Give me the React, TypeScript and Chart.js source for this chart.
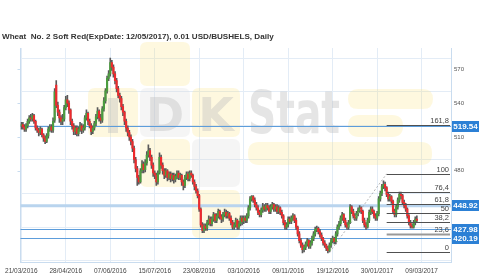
import { useEffect, useRef } from "react";
import { Chart, registerables } from "chart.js";

Chart.register(...registerables);

const titleText = "Wheat  No. 2 Soft Red(ExpDate: 12/05/2017), 0.01 USD/BUSHELS, Daily";

const tickLabels = ["21/03/2016", "28/04/2016", "07/06/2016", "15/07/2016", "23/08/2016", "03/10/2016", "09/11/2016", "19/12/2016", "30/01/2017", "09/03/2017"];
const tickStep = 28;
const slotCount = 271;
const categories = Array.from({ length: slotCount }, (_, i) => String(i));

const opens = [
  520,521,519,517,520,524,527,526,529,524,
  518,516,514,517,512,509,506,511,517,519,
  516,525,556,538,532,527,524,526,536,543,
  540,534,524,520,515,518,513,517,520,516,
  518,527,531,524,520,515,518,522,528,533,
  527,525,535,542,551,562,566,576,572,566,
  560,553,547,544,537,532,524,518,514,510,
  506,500,490,482,474,470,480,486,481,487,
  494,498,492,485,478,476,470,478,492,485,
  480,476,480,474,477,473,476,472,475,478,
  474,476,470,467,474,477,473,478,476,470,
  466,462,458,446,432,427,431,429,434,437,
  433,437,441,436,440,444,439,437,441,443,
  440,442,438,434,430,432,436,430,433,438,
  435,438,436,440,447,455,457,454,450,447,
  443,441,445,448,446,449,447,444,448,450,
  446,448,444,447,443,440,434,430,432,437,
  435,438,440,436,430,424,418,414,410,412,
  415,418,413,416,420,424,428,429,426,423,
  420,416,414,411,409,414,418,420,417,424,
  430,433,438,441,436,432,430,434,448,444,
  440,438,442,445,447,444,436,432,430,436,
  443,446,444,440,438,442,455,460,466,468,
  465,459,455,457,453,444,441,448,454,459,
  458,452,449,446,440,434,431,430,434,437,
];
const highs = [
  523,523,521,522,526,529,530,531,530,525,
  520,518,519,518,513,511,513,519,521,521,
  527,553,560,541,534,529,530,538,546,547,
  542,535,526,522,520,520,519,523,522,521,
  529,534,532,526,522,520,524,530,536,534,
  530,537,545,553,564,569,580,578,574,568,
  562,555,549,546,539,533,526,520,516,512,
  508,502,492,484,476,482,489,488,490,497,
  503,500,494,487,480,478,480,496,494,487,
  482,482,481,479,479,478,478,477,480,480,
  478,477,472,476,479,479,480,480,477,472,
  468,464,459,447,434,433,433,436,440,439,
  439,443,442,442,446,445,441,443,446,445,
  444,443,440,436,434,438,437,435,440,440,
  440,440,442,449,457,458,458,456,452,449,
  445,447,451,450,451,451,449,450,452,451,
  450,450,449,448,445,441,436,434,439,439,
  440,442,441,438,431,426,420,416,414,417,
  420,419,418,422,426,430,431,430,428,425,
  421,418,415,413,416,420,422,421,426,432,
  435,440,443,442,438,434,436,450,449,446,
  442,444,447,449,448,445,438,434,438,445,
  448,448,445,442,444,457,462,468,471,470,
  466,461,459,458,454,446,450,456,461,461,
  459,454,451,447,441,436,433,436,439,440,
];
const lows = [
  517,517,515,515,518,522,524,524,522,516,
  514,511,512,510,506,504,505,509,515,514,
  514,523,536,529,523,521,521,524,534,537,
  531,521,517,512,512,511,511,515,513,514,
  516,525,521,518,512,513,516,520,526,524,
  522,523,533,540,549,560,564,569,563,557,
  550,545,541,534,529,521,515,511,507,503,
  497,487,479,467,468,469,478,478,479,485,
  492,489,482,475,473,467,468,477,482,477,
  473,474,471,472,470,471,469,470,473,472,
  472,467,463,465,472,471,471,474,468,463,
  460,456,444,430,425,425,427,427,432,431,
  431,435,434,434,438,437,434,435,439,438,
  438,436,432,428,428,430,428,428,431,432,
  433,434,434,438,445,453,452,448,445,441,
  439,439,443,444,444,445,442,442,446,444,
  444,442,442,441,438,432,428,428,430,433,
  433,436,434,428,422,416,412,407,408,410,
  413,411,411,414,418,422,426,424,421,418,
  414,412,409,407,408,412,416,415,415,422,
  428,431,436,434,430,428,428,433,442,438,
  436,436,440,443,442,434,430,428,429,434,
  441,442,438,436,436,440,453,458,464,462,
  457,453,453,451,442,439,439,446,452,455,
  450,447,444,438,432,429,429,429,432,434,
];
const closes = [
  521,519,517,520,524,527,526,529,524,518,
  516,514,517,512,509,506,511,517,519,516,
  524,550,538,532,527,524,526,536,543,540,
  534,524,520,515,518,513,517,520,516,518,
  527,531,524,520,515,518,522,528,533,527,
  525,535,542,551,562,566,576,572,566,560,
  553,547,544,537,532,524,518,514,510,506,
  500,490,482,474,470,480,486,481,487,494,
  498,492,485,478,476,470,478,492,485,480,
  476,480,474,477,473,476,472,475,478,474,
  476,470,467,474,477,473,478,476,470,466,
  462,458,446,432,427,431,429,434,437,433,
  437,441,436,440,444,439,437,441,443,440,
  442,438,434,430,432,436,430,433,438,435,
  438,436,440,447,455,457,454,450,447,443,
  441,445,448,446,449,447,444,448,450,446,
  448,444,447,443,440,434,430,432,437,435,
  438,440,436,430,424,418,414,410,412,415,
  418,413,416,420,424,428,429,426,423,420,
  416,414,411,409,414,418,420,417,424,430,
  433,438,441,436,432,430,434,448,444,440,
  438,442,445,447,444,436,432,430,436,443,
  446,444,440,438,442,455,460,466,468,465,
  459,455,457,453,444,441,448,454,459,458,
  452,449,446,440,434,431,430,434,437,436,
];

const yMin = 399;
const yMax = 589;
const gridValues = [400, 430, 460, 490, 520, 550, 580];
const axisLabelValues = [480, 510, 540, 570];

const priceLevels = [519.54, 448.92, 427.98, 420.19];
const priceLabels = ["519.54", "448.92", "427.98", "420.19"];

const fibLow = 407.5;
const fibHigh = 477.3;
const fibStartIndex = 194;
const fibEndIndex = 230;
const fibRatios = [161.8, 100, 76.4, 61.8, 50, 38.2, 23.6, 0];
const fibLabels = ["161,8", "100", "76,4", "61,8", "50", "38,2", "23,6", "0"];

const gridColor = "#e3ecf6";
const axisColor = "#c9dcef";
const upColor = "#4b9c3e";
const downColor = "#ee2a2d";
const wickColor = "#5a5a5a";
const SANS = '"Liberation Sans", Arial, sans-serif';

function rr(ctx: CanvasRenderingContext2D, x: number, y: number, w: number, h: number, r: number) {
  ctx.beginPath();
  ctx.moveTo(x + r, y);
  ctx.lineTo(x + w - r, y);
  ctx.quadraticCurveTo(x + w, y, x + w, y + r);
  ctx.lineTo(x + w, y + h - r);
  ctx.quadraticCurveTo(x + w, y + h, x + w - r, y + h);
  ctx.lineTo(x + r, y + h);
  ctx.quadraticCurveTo(x, y + h, x, y + h - r);
  ctx.lineTo(x, y + r);
  ctx.quadraticCurveTo(x, y, x + r, y);
  ctx.closePath();
}

const decorPlugin = {
  id: "decor",
  beforeDatasetsDraw(chart: any) {
    const ctx: CanvasRenderingContext2D = chart.ctx;
    const area = chart.chartArea;
    const ys = chart.scales.y;
    ctx.save();
    const yellow = "rgba(250,224,120,0.24)";
    const grey = "rgba(220,220,220,0.28)";
    const boxes: [number, number, number, number, number, string][] = [
      [140, 42, 50, 44, 7, yellow],
      [88, 88, 50, 49, 7, yellow],
      [140, 88, 50, 49, 7, grey],
      [192, 88, 48, 49, 7, yellow],
      [348, 89, 85, 20, 10, yellow],
      [348, 115, 55, 22, 11, yellow],
      [248, 142, 184, 23, 11, yellow],
      [140, 139, 50, 48, 7, yellow],
      [192, 139, 48, 48, 7, grey],
      [192, 190, 48, 48, 7, yellow],
    ];
    for (const [x, y, w, h, r, c] of boxes) {
      rr(ctx, x, y, w, h, r);
      ctx.fillStyle = c;
      ctx.fill();
    }
    ctx.fillStyle = "rgba(190,190,190,0.4)";
    ctx.fillRect(108, 98, 10, 35);
    ctx.font = 'bold 46px "DejaVu Sans", sans-serif';
    ctx.textBaseline = "alphabetic";
    ctx.textAlign = "center";
    ctx.fillText("D", 165, 131);
    ctx.fillText("K", 216, 131);
    ctx.font = 'bold 58px "DejaVu Sans", sans-serif';
    ctx.textAlign = "left";
    const sw = ctx.measureText("Stat").width;
    ctx.translate(248, 133);
    ctx.scale(92 / sw, 1);
    ctx.fillText("Stat", 0, 0);
    ctx.restore();

    ctx.save();
    priceLevels.forEach((v, i) => {
      const y = ys.getPixelForValue(v);
      ctx.beginPath();
      ctx.strokeStyle = i === 1 ? "#b9d4ee" : "#5d9ddb";
      ctx.lineWidth = i === 1 ? 3 : 1;
      const yy = i === 1 ? y : Math.round(y) + 0.5;
      ctx.moveTo(area.left, yy);
      ctx.lineTo(area.right, yy);
      ctx.stroke();
    });
    ctx.strokeStyle = axisColor;
    ctx.lineWidth = 1;
    axisLabelValues.forEach((v) => {
      const y = Math.round(ys.getPixelForValue(v)) + 0.5;
      ctx.beginPath();
      ctx.moveTo(area.left - 3, y);
      ctx.lineTo(area.left, y);
      ctx.stroke();
    });
    ctx.restore();
  },
  afterDatasetsDraw(chart: any) {
    const ctx: CanvasRenderingContext2D = chart.ctx;
    const area = chart.chartArea;
    const ys = chart.scales.y;
    const xs = chart.scales.x;
    ctx.save();
    const x0 = xs.getPixelForValue(fibStartIndex);
    const x1 = xs.getPixelForValue(fibEndIndex);
    ctx.beginPath();
    ctx.setLineDash([2, 2]);
    ctx.strokeStyle = "rgba(150,150,150,0.7)";
    ctx.lineWidth = 1;
    ctx.moveTo(x0, ys.getPixelForValue(fibLow));
    ctx.lineTo(x1, ys.getPixelForValue(fibHigh));
    ctx.stroke();
    ctx.setLineDash([]);
    ctx.font = "7.5px " + SANS;
    ctx.textAlign = "right";
    ctx.textBaseline = "bottom";
    fibRatios.forEach((r, i) => {
      const v = fibLow + (r / 100) * (fibHigh - fibLow);
      const y = Math.round(ys.getPixelForValue(v)) + 0.5;
      ctx.beginPath();
      ctx.strokeStyle = r === 23.6 ? "#999" : "#505050";
      ctx.lineWidth = r === 23.6 ? 2 : 1;
      ctx.moveTo(x1, y);
      ctx.lineTo(area.right - 1, y);
      ctx.stroke();
      ctx.fillStyle = "#444";
      ctx.fillText(fibLabels[i], area.right - 2, y - 1);
    });
    ctx.font = "bold 8px " + SANS;
    ctx.textAlign = "center";
    ctx.textBaseline = "middle";
    priceLevels.forEach((v, i) => {
      const y = ys.getPixelForValue(v);
      ctx.fillStyle = "#2c80d5";
      ctx.fillRect(area.right + 1, Math.round(y - 5.5), 27, 11);
      ctx.fillStyle = "#ffffff";
      ctx.fillText(priceLabels[i], area.right + 14.5, y + 0.5);
    });
    ctx.restore();
  },
  afterDraw(chart: any) {
    const ctx: CanvasRenderingContext2D = chart.ctx;
    ctx.save();
    ctx.font = "bold 10px " + SANS;
    const w = ctx.measureText(titleText).width;
    const size = (10 * 272) / w;
    ctx.font = `bold ${size}px ` + SANS;
    ctx.fillStyle = "#333";
    ctx.textBaseline = "middle";
    ctx.textAlign = "left";
    ctx.fillText(titleText, 2, 37);
    ctx.restore();
  },
};

export default function App() {
  const ref = useRef<HTMLCanvasElement>(null);
  useEffect(() => {
    document.body.style.margin = "0";
    const canvas = ref.current!;
    const wicks = opens.map((_, i) => [lows[i], highs[i]]);
    const bodies = opens.map((o, i) => [o, closes[i]]);
    const colors = opens.map((o, i) => (closes[i] >= o ? upColor : downColor));
    const chart = new Chart(canvas, {
      type: "bar",
      data: {
        labels: categories,
        datasets: [
          {
            data: wicks as any,
            backgroundColor: wickColor,
            barThickness: 1,
            grouped: false,
            order: 2,
          } as any,
          {
            data: bodies as any,
            backgroundColor: colors,
            barThickness: 1.5,
            minBarLength: 1,
            grouped: false,
            order: 1,
          } as any,
        ],
      },
      options: {
        responsive: false,
        animation: false,
        events: [],
        layout: { padding: { top: 48, left: 0, right: 0, bottom: 0 } },
        plugins: { legend: { display: false }, tooltip: { enabled: false }, title: { display: false } },
        scales: {
          x: {
            type: "category",
            offset: true,
            grid: {
              offset: false,
              drawTicks: false,
              color: (c: any) => (c.index % tickStep === 0 ? gridColor : "rgba(0,0,0,0)"),
            },
            border: { color: axisColor },
            ticks: {
              autoSkip: false,
              maxRotation: 0,
              minRotation: 0,
              padding: 5,
              color: "#444",
              font: { size: 6.5, family: SANS },
              callback: (_v: any, i: number) => (i % tickStep === 0 ? tickLabels[i / tickStep] ?? "" : ""),
            },
            afterFit: (s: any) => {
              s.height = 18;
            },
          },
          y: {
            position: "left",
            min: yMin,
            max: yMax,
            afterBuildTicks: (s: any) => {
              s.ticks = gridValues.map((v) => ({ value: v }));
            },
            grid: { color: gridColor, drawTicks: false },
            border: { color: axisColor },
            ticks: { display: false },
            afterFit: (s: any) => {
              s.width = 16;
            },
          },
          y2: {
            position: "right",
            min: yMin,
            max: yMax,
            afterBuildTicks: (s: any) => {
              s.ticks = axisLabelValues.map((v) => ({ value: v }));
            },
            grid: { display: false, drawOnChartArea: false, drawTicks: false },
            border: { display: true, color: axisColor },
            ticks: { padding: 3, color: "#555", font: { size: 6, family: SANS } },
            afterFit: (s: any) => {
              s.width = 49;
            },
          },
        },
      },
      plugins: [decorPlugin],
    });
    return () => chart.destroy();
  }, []);
  return (
    <div style={{ width: 500, height: 280, background: "#fff" }}>
      <canvas ref={ref} width={500} height={280} style={{ display: "block" }} />
    </div>
  );
}
